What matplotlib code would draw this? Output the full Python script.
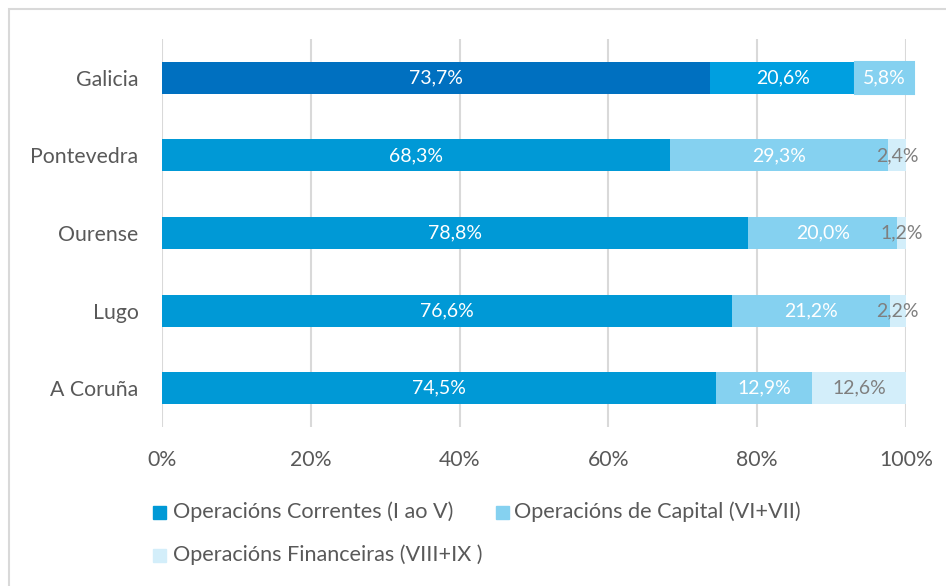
import matplotlib
matplotlib.use("Agg")
import matplotlib.pyplot as plt
from matplotlib.patches import Rectangle

plt.rcParams['font.family'] = ['Lato', 'DejaVu Sans']

categories = ["A Coruña", "Lugo", "Ourense", "Pontevedra", "Galicia"]
correntes = [74.5, 76.6, 78.8, 68.3, 73.7]
capital = [12.9, 21.2, 20.0, 29.3, 19.5]
financeiras = [12.6, 2.2, 1.2, 2.4, 7.9]
lab_correntes = ["74,5%", "76,6%", "78,8%", "68,3%", "73,7%"]
lab_capital = ["12,9%", "21,2%", "20,0%", "29,3%", "20,6%"]
lab_financeiras = ["12,6%", "2,2%", "1,2%", "2,4%", "5,8%"]
xticks = [0, 20, 40, 60, 80, 100]
xticklabels = ["0%", "20%", "40%", "60%", "80%", "100%"]
legend_labels = ["Operacións Correntes (I ao V)", "Operacións de Capital (VI+VII)",
                 "Operacións Financeiras (VIII+IX )"]

c1, c2, c3 = "#0099D6", "#85D1F0", "#D3EEFA"
g1, g2, g3 = "#0070C0", "#009FE0", "#85D1F0"
txtgray = "#595959"

W, H = 946, 586
fig = plt.figure(figsize=(W / 100, H / 100), dpi=100)
# chart frame
fig.patches.append(Rectangle((9 / W, -0.1), 1.2, (H - 9) / H + 0.1, transform=fig.transFigure,
                             fill=False, edgecolor="#D9D9D9", linewidth=1.5))

ax = fig.add_axes([162 / W, 1 - 427 / H, (906 - 162) / W, (427 - 39) / H])
ax.set_xlim(0, 100)
ax.set_ylim(-0.5, len(categories) - 0.5)
for s in ax.spines.values():
    s.set_visible(False)
ax.set_xticks(xticks)
ax.set_xticklabels(xticklabels)
ax.xaxis.grid(True, color="#D9D9D9", linewidth=1.5)
ax.set_axisbelow(True)
ax.tick_params(length=0, labelsize=15.3, colors=txtgray)
ax.tick_params(axis='x', pad=16.5)
ax.tick_params(axis='y', pad=17)
ax.set_yticks(range(len(categories)))
ax.set_yticklabels(categories)

h = 0.41
n = len(categories)
for i in range(n):
    gal = categories[i] == "Galicia"
    cols = (g1, g2, g3) if gal else (c1, c2, c3)
    left = 0
    vals = (correntes[i], capital[i], financeiras[i])
    labs = (lab_correntes[i], lab_capital[i], lab_financeiras[i])
    for k in range(3):
        extra = dict(edgecolor=cols[k], linewidth=1.5) if (gal and k == 2) else dict(linewidth=0)
        ax.barh(i, vals[k], left=left, height=h, color=cols[k], clip_on=False, **extra)
        tc = "white" if (k < 2 or gal) else "#7F7F7F"
        ax.text(left + vals[k] / 2, i, labs[k], ha="center", va="center",
                color=tc, fontsize=14, clip_on=False)
        left += vals[k]

# legend (manual flow layout)
legend_cols = [c1, c2, c3]
pos = [(153, 512, 173), (496, 512, 514), (153, 555, 173)]
for (sx, sy, tx), col, lab in zip(pos, legend_cols, legend_labels):
    fig.patches.append(Rectangle((sx / W, 1 - (sy + 7) / H), 13 / W, 13 / H,
                                 transform=fig.transFigure, color=col))
    fig.text(tx / W, 1 - sy / H, lab, ha="left", va="center", color=txtgray, fontsize=15.6)

fig.savefig("out.png", dpi=100)
